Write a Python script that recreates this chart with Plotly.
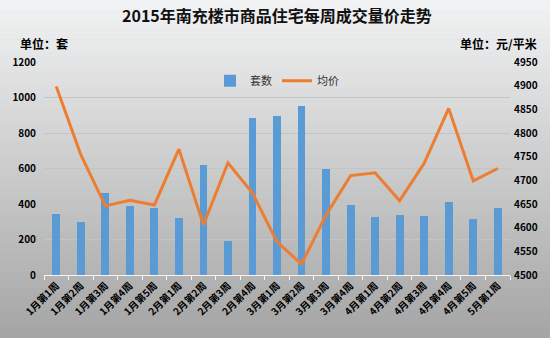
import plotly.graph_objects as go

weeks = ["1月第1周", "1月第2周", "1月第3周", "1月第4周", "1月第5周",
         "2月第1周", "2月第2周", "2月第3周", "2月第4周",
         "3月第1周", "3月第2周", "3月第3周", "3月第4周",
         "4月第1周", "4月第2周", "4月第3周", "4月第4周", "4月第5周",
         "5月第1周"]
units = [345, 300, 460, 390, 375, 320, 620, 190, 885, 895, 950, 595, 395,
         325, 340, 335, 410, 315, 380]
price = [4898, 4754, 4646, 4658, 4648, 4766, 4606, 4737, 4673, 4570, 4523,
         4627, 4710, 4716, 4657, 4736, 4852, 4699, 4725]

FONT = "Noto Sans CJK SC"

fig = go.Figure()
fig.add_trace(go.Bar(x=weeks, y=units, name="套数", width=0.32,
                     marker=dict(color="#5b9bd5", line=dict(width=0)),
                     yaxis="y"))
fig.add_trace(go.Scatter(x=weeks, y=price, name="均价", mode="lines",
                         line=dict(color="#ed7d31", width=3),
                         yaxis="y2"))

# background vertical gradient
shapes = []
n = 60
top = (241, 242, 243)
bot = (165, 165, 165)
for i in range(n):
    t = i / (n - 1)
    c = tuple(round(top[k] + (bot[k] - top[k]) * t) for k in range(3))
    shapes.append(dict(type="rect", xref="paper", yref="paper",
                       x0=-0.2, x1=1.2,
                       y1=1 + 62 / 213 - i * (338 / 213) / n,
                       y0=1 + 62 / 213 - (i + 1) * (338 / 213) / n - 0.002,
                       fillcolor="rgb(%d,%d,%d)" % c, line=dict(width=0),
                       layer="below"))

fig.update_layout(
    width=550, height=338,
    margin=dict(l=37, r=38, t=62, b=63),
    paper_bgcolor="#d0d0d0",
    plot_bgcolor="rgba(0,0,0,0)",
    shapes=shapes,
    font=dict(family=FONT, color="#000000"),
    showlegend=True,
    legend=dict(orientation="h", x=0.5, xanchor="center", y=0.98, yanchor="top",
                font=dict(size=11, color="#333333"), bgcolor="rgba(0,0,0,0)",
                itemwidth=30, tracegroupgap=0),
    bargap=0,
    xaxis=dict(type="category", tickangle=-45, tickson="boundaries",
               ticks="outside", ticklen=4, tickcolor="#f4f4f4",
               showline=True, linecolor="#f4f4f4", linewidth=1,
               tickfont=dict(size=10, family=FONT, weight="bold"),
               showgrid=False),
    yaxis=dict(range=[0, 1200], dtick=200, showgrid=True, gridcolor="#c4c4c4",
               gridwidth=1, zeroline=False, showline=False,
               tickfont=dict(size=10, family=FONT, weight="bold"),
               ticklabelstandoff=7),
    yaxis2=dict(range=[4500, 4950], dtick=50, overlaying="y", side="right",
                showgrid=False, zeroline=False, showline=False,
                tickfont=dict(size=10, family=FONT, weight="bold"),
                ticklabelstandoff=3),
    annotations=[
        dict(text="<b>2015年南充楼市商品住宅每周成交量价走势</b>", xref="paper",
             yref="paper", x=0.5, y=1 + 47 / 213, xanchor="center",
             yanchor="middle", showarrow=False,
             font=dict(size=16, family=FONT, color="#111111")),
        dict(text="<b>单位：套</b>", xref="paper", yref="paper",
             x=-27 / 475, y=1 + 19 / 213, xanchor="left", yanchor="middle",
             showarrow=False, font=dict(size=12, family=FONT)),
        dict(text="<b>单位：元/平米</b>", xref="paper", yref="paper",
             x=1 + 30 / 475, y=1 + 19 / 213, xanchor="right", yanchor="middle",
             showarrow=False, font=dict(size=12, family=FONT)),
    ],
)

fig.write_html("out.html")
